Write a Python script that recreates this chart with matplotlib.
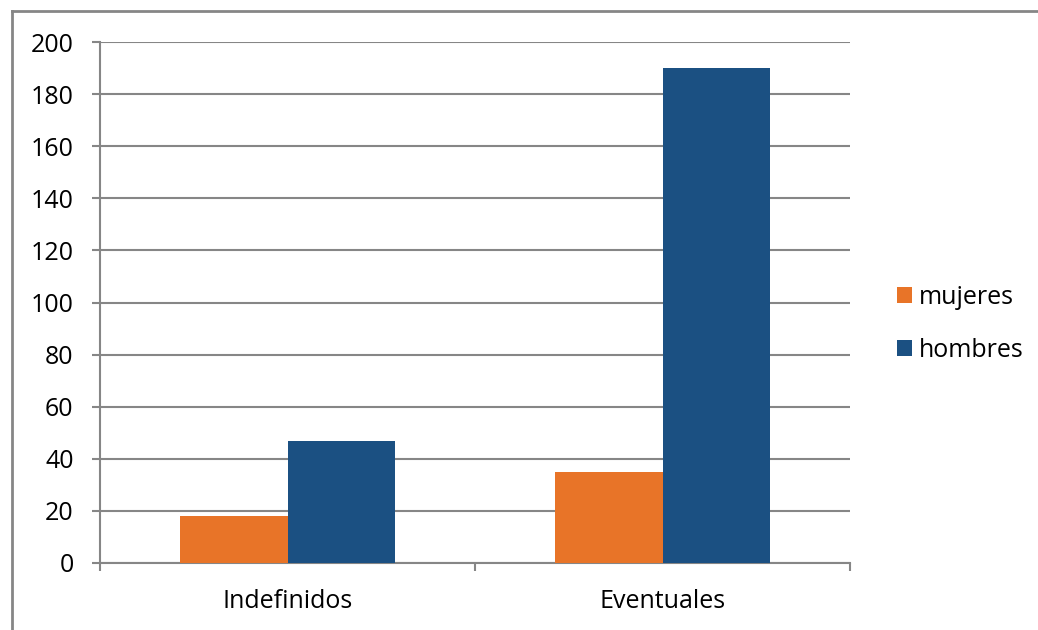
import matplotlib
matplotlib.use('Agg')
import matplotlib.pyplot as plt
import numpy as np
from matplotlib.lines import Line2D

categories = ['Indefinidos', 'Eventuales']
mujeres = [18, 35]
hombres = [47, 190]

plt.rcParams['font.family'] = ['Open Sans', 'DejaVu Sans']

W, H = 1038, 630
fig = plt.figure(figsize=(W / 100, H / 100), dpi=100)
ax = fig.add_axes([100 / W, 1 - 563 / H, 750 / W, 521 / H])

x = np.arange(len(categories))
w = 1 / 3.5
gray = '#868686'
ax.bar(x - w / 2, mujeres, w, color='#E87428', label='mujeres', zorder=3)
ax.bar(x + w / 2, hombres, w, color='#1B5082', label='hombres', zorder=3)

ax.set_xlim(-0.5, len(categories) - 0.5)
ax.set_ylim(0, 200)
ax.set_yticks(range(0, 201, 20))
ax.yaxis.grid(True, color=gray, linewidth=1.5, zorder=1)
ax.set_axisbelow(True)

ax.set_xticks(x)
ax.set_xticklabels(categories)
ax.set_xticks(np.arange(-0.5, len(categories), 1), minor=True)
ax.tick_params(axis='x', which='major', length=0, pad=19, labelsize=18)
ax.tick_params(axis='x', which='minor', length=6, width=1.5, color=gray, direction='out')
ax.tick_params(axis='y', length=6, width=1.5, color=gray, pad=13, labelsize=18)

for s in ['top', 'right']:
    ax.spines[s].set_visible(False)
for s in ['left', 'bottom']:
    ax.spines[s].set_color(gray)
    ax.spines[s].set_linewidth(1.5)

ax.legend(loc='center left', bbox_to_anchor=(1.032, 0.459), frameon=False,
          fontsize=18, handlelength=0.6, handleheight=0.6, handletextpad=0.3,
          labelspacing=1.1)

# outer frame of the chart
fig.add_artist(Line2D([12 / W, 1], [1 - 10.5 / H, 1 - 10.5 / H], color=gray, linewidth=2))
fig.add_artist(Line2D([12 / W, 12 / W], [0, 1 - 10.5 / H], color=gray, linewidth=2))

fig.savefig('out.png', dpi=100)
